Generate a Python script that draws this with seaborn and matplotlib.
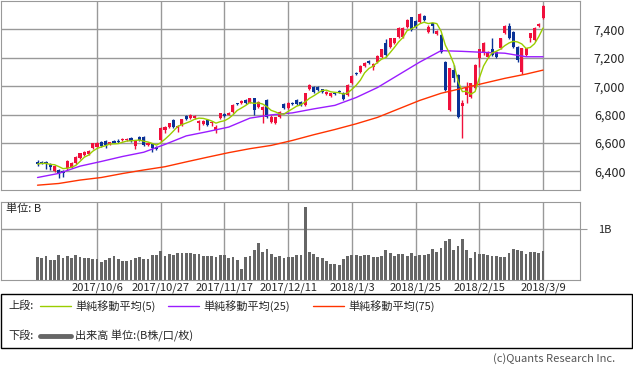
import numpy as np
import pandas as pd
import matplotlib.pyplot as plt
import matplotlib.lines as mlines
import matplotlib.patches as mpatches
import seaborn as sns

W, H = 633, 370

# daily candles (index points)
opens = [6468, 6468, 6466, 6450, 6405, 6410, 6405, 6421, 6433, 6461,
         6492, 6515, 6522, 6562, 6575, 6604, 6614, 6590, 6616, 6615,
         6622, 6623, 6632, 6578, 6644, 6644, 6585, 6592, 6574, 6620,
         6691, 6714, 6761, 6703, 6726, 6789, 6773, 6773, 6738, 6733,
         6761, 6740, 6691, 6773, 6801, 6800, 6820, 6879, 6879, 6902,
         6884, 6914, 6855, 6832, 6902, 6750, 6743, 6780, 6874, 6844,
         6884, 6902, 6891, 6867, 6977, 6996, 6996, 6977, 6945, 6930,
         6949, 6965, 6955, 6937, 7019, 7094, 7101, 7141, 7176, 7132,
         7172, 7207, 7306, 7277, 7306, 7348, 7348, 7418, 7484, 7460,
         7453, 7493, 7383, 7442, 7364, 7360, 7172, 6832, 7113, 7078,
         6860, 6937, 6925, 6984, 7195, 7230, 7207, 7265, 7242, 7266,
         7371, 7423, 7383, 7277, 7101, 7219, 7336, 7324, 7423, 7477]
highs = [6480, 6474, 6470, 6456, 6445, 6416, 6410, 6478, 6468, 6510,
         6533, 6544, 6550, 6603, 6606, 6612, 6622, 6610, 6622, 6628,
         6633, 6632, 6640, 6620, 6650, 6650, 6606, 6598, 6580, 6712,
         6720, 6744, 6768, 6725, 6772, 6795, 6803, 6795, 6762, 6762,
         6768, 6757, 6725, 6814, 6808, 6815, 6873, 6885, 6900, 6908,
         6920, 6920, 6897, 6862, 6908, 6797, 6786, 6826, 6880, 6890,
         6890, 6908, 6897, 6955, 7014, 7002, 7002, 6983, 6967, 6955,
         6955, 6971, 6961, 7014, 7077, 7100, 7147, 7171, 7182, 7161,
         7218, 7265, 7329, 7342, 7342, 7413, 7417, 7471, 7489, 7466,
         7513, 7499, 7430, 7448, 7394, 7366, 7178, 7131, 7148, 7084,
         6902, 7031, 7025, 7154, 7265, 7313, 7248, 7336, 7248, 7342,
         7429, 7442, 7389, 7283, 7272, 7272, 7377, 7413, 7443, 7570]
lows = [6440, 6455, 6414, 6410, 6398, 6352, 6362, 6412, 6425, 6455,
        6485, 6510, 6516, 6556, 6570, 6575, 6567, 6585, 6598, 6603,
        6616, 6617, 6608, 6560, 6615, 6578, 6580, 6538, 6550, 6608,
        6667, 6708, 6708, 6680, 6720, 6760, 6768, 6768, 6690, 6727,
        6720, 6720, 6667, 6768, 6785, 6795, 6814, 6866, 6873, 6873,
        6878, 6797, 6849, 6738, 6779, 6738, 6737, 6774, 6838, 6838,
        6868, 6868, 6861, 6861, 6971, 6955, 6964, 6955, 6939, 6924,
        6936, 6952, 6900, 6931, 7013, 7079, 7095, 7135, 7154, 7113,
        7166, 7201, 7207, 7271, 7300, 7342, 7342, 7412, 7389, 7412,
        7447, 7459, 7371, 7371, 7358, 7230, 6966, 6826, 7031, 6774,
        6632, 6878, 6919, 6978, 7137, 7219, 7201, 7213, 7201, 7260,
        7365, 7330, 7271, 7172, 7085, 7213, 7313, 7318, 7417, 7471]
closes = [6452, 6461, 6456, 6428, 6438, 6386, 6390, 6470, 6461, 6503,
          6527, 6538, 6545, 6597, 6600, 6581, 6583, 6604, 6602, 6608,
          6627, 6628, 6612, 6616, 6620, 6585, 6602, 6562, 6557, 6703,
          6710, 6738, 6714, 6719, 6766, 6766, 6797, 6789, 6757, 6757,
          6726, 6745, 6714, 6808, 6790, 6808, 6867, 6872, 6895, 6879,
          6914, 6832, 6891, 6855, 6785, 6785, 6780, 6820, 6844, 6884,
          6874, 6874, 6867, 6949, 7008, 6961, 6970, 6961, 6961, 6949,
          6942, 6958, 6907, 7008, 7071, 7085, 7141, 7165, 7160, 7155,
          7212, 7259, 7219, 7336, 7336, 7407, 7411, 7465, 7395, 7418,
          7507, 7465, 7418, 7423, 7388, 7242, 6972, 7125, 7054, 6780,
          6878, 6984, 7019, 7148, 7259, 7301, 7242, 7219, 7207, 7336,
          7423, 7336, 7277, 7184, 7266, 7266, 7371, 7407, 7437, 7564]

# volume in billions
volume_b = [0.45, 0.44, 0.47, 0.39, 0.39, 0.49, 0.44, 0.47, 0.43, 0.49,
            0.45, 0.43, 0.43, 0.41, 0.41, 0.36, 0.39, 0.43, 0.47, 0.41,
            0.38, 0.38, 0.39, 0.43, 0.45, 0.41, 0.41, 0.49, 0.49, 0.57,
            0.47, 0.51, 0.49, 0.53, 0.53, 0.53, 0.53, 0.51, 0.51, 0.47,
            0.47, 0.47, 0.45, 0.49, 0.49, 0.43, 0.45, 0.39, 0.22, 0.45,
            0.47, 0.59, 0.73, 0.55, 0.61, 0.51, 0.45, 0.47, 0.43, 0.45,
            0.45, 0.49, 0.49, 1.45, 0.55, 0.51, 0.45, 0.43, 0.38, 0.32,
            0.32, 0.30, 0.41, 0.47, 0.49, 0.49, 0.47, 0.49, 0.49, 0.45,
            0.45, 0.47, 0.59, 0.53, 0.47, 0.51, 0.51, 0.47, 0.53, 0.47,
            0.49, 0.49, 0.51, 0.61, 0.55, 0.63, 0.77, 0.81, 0.59, 0.67,
            0.81, 0.59, 0.43, 0.55, 0.51, 0.51, 0.49, 0.47, 0.47, 0.45,
            0.45, 0.53, 0.61, 0.59, 0.57, 0.51, 0.55, 0.55, 0.53, 0.57]

# 25 / 75 day averages read every 5 bars
ma_bar = [0, 5, 10, 15, 20, 25, 30, 35, 40, 45, 50, 55, 60,
          65, 70, 75, 80, 85, 90, 95, 100, 105, 110, 115, 119]
ma25 = [6357, 6386, 6437, 6470, 6505, 6535, 6590, 6650, 6680, 6712, 6775, 6798, 6812,
        6840, 6865, 6920, 6990, 7080, 7170, 7250, 7245, 7238, 7232, 7207, 7207]
ma75 = [6303, 6315, 6339, 6357, 6385, 6410, 6433, 6467, 6500, 6532, 6560, 6583, 6618,
        6658, 6695, 6735, 6780, 6840, 6900, 6950, 6985, 7020, 7055, 7085, 7113]

label_dates = ['2017-10-06', '2017-10-27', '2017-11-17', '2017-12-11',
               '2018-01-03', '2018-01-25', '2018-02-15', '2018-03-09']
holidays = ['2017-11-23', '2017-12-25', '2018-01-01', '2018-01-15', '2018-02-19']

RED = '#f0103c'
BLUE = '#0a3296'
GRID = '#999999'


def fx(px):
    return px / W


def fy(py):
    return 1 - py / H


dates = pd.bdate_range('2017-09-18', '2018-03-09', freq='C', holidays=holidays)
df = pd.DataFrame({'date': dates, 'open': opens, 'high': highs, 'low': lows,
                   'close': closes, 'vol': volume_b})
df['bar'] = np.arange(len(df))
df['ma5'] = df['close'].rolling(5, min_periods=1).mean()
up = df['close'] >= df['open']
colors = np.where(up, RED, BLUE)

tick_pos = [int(df.index[df['date'] == pd.Timestamp(d)][0]) for d in label_dates]
tick_lab = [f'{d.year}/{d.month}/{d.day}' for d in pd.to_datetime(label_dates)]

sns.set_style('white')
plt.rcParams['font.family'] = ['Noto Sans CJK JP', 'DejaVu Sans']

fig = plt.figure(figsize=(W / 100, H / 100), dpi=100)
ax = fig.add_axes([fx(1), fy(190.3), fx(579), 189.8 / H])
axv = fig.add_axes([fx(1), fy(280), fx(579), 78.3 / H])

xlim = (-8.6, 127.7)

# price panel
ax.set_axisbelow(True)
ax.grid(True, color=GRID, lw=1)
ax.vlines(df['bar'], df['low'], df['high'], colors=colors, lw=1, zorder=2)
body = np.maximum((df['close'] - df['open']).abs(), 5)
ax.bar(df['bar'], body, bottom=np.minimum(df['open'], df['close']),
       width=0.72, color=colors, lw=0, zorder=3)
sns.lineplot(x=ma_bar, y=ma75, ax=ax, color='#ff3300', lw=1, zorder=4)
sns.lineplot(x=ma_bar, y=ma25, ax=ax, color='#9a1cff', lw=1, zorder=4)
sns.lineplot(x=df['bar'], y=df['ma5'], ax=ax, color='#9acd00', lw=1, zorder=5)
ax.set_xlim(*xlim)
ax.set_ylim(6267, 7603)
ax.set_xticks(tick_pos)
ax.set_xticklabels([])
yt = np.arange(6400, 7401, 200)
ax.set_yticks(yt)
ax.set_yticklabels([f'{v:,}' for v in yt])
ax.yaxis.tick_right()
ax.tick_params(axis='y', length=0, pad=10, labelsize=9)
ax.tick_params(axis='x', length=0)
ax.set_xlabel('')
ax.set_ylabel('')
for s in ax.spines.values():
    s.set_color(GRID)

# volume panel
sns.barplot(x=df['bar'], y=df['vol'], ax=axv, color='#666666', width=0.66,
            saturation=1, linewidth=0)
axv.set_axisbelow(True)
axv.grid(True, color=GRID, lw=1)
axv.set_xlim(*xlim)
axv.set_ylim(0, 1.55)
axv.set_xticks(tick_pos)
axv.set_xticklabels(tick_lab)
axv.set_yticks([1.0])
axv.set_yticklabels(['1B'])
axv.yaxis.tick_right()
axv.tick_params(axis='y', length=5, color=GRID, pad=8, labelsize=8)
axv.tick_params(axis='x', length=0, pad=2, labelsize=8)
axv.set_xlabel('')
axv.set_ylabel('')
for s in axv.spines.values():
    s.set_color(GRID)
fig.text(fx(6), fy(209), '単位: B', fontsize=8, va='center')

# legend box
fig.add_artist(mpatches.Rectangle((fx(0.5), fy(348)), fx(631.5), 54 / H,
                                  transform=fig.transFigure, fill=False,
                                  ec='black', lw=1))
row1, row2 = 306, 336
fig.text(fx(8), fy(row1), '上段:', fontsize=8, va='center')
fig.text(fx(8), fy(row2), '下段:', fontsize=8, va='center')
for x0, col, txt in [(40, '#9acd00', '単純移動平均(5)'),
                     (168, '#9a1cff', '単純移動平均(25)'),
                     (313, '#ff3300', '単純移動平均(75)')]:
    fig.add_artist(mlines.Line2D([fx(x0), fx(x0 + 31)], [fy(row1), fy(row1)],
                                 transform=fig.transFigure, color=col, lw=1))
    fig.text(fx(x0 + 35), fy(row1), txt, fontsize=8, va='center')
fig.add_artist(mlines.Line2D([fx(40), fx(71)], [fy(row2), fy(row2)],
                             transform=fig.transFigure, color='#666666', lw=3.5))
fig.text(fx(75), fy(row2), '出来高 単位:(B株/口/枚)', fontsize=8, va='center')

fig.text(fx(615), fy(359), '(c)Quants Research Inc.', fontsize=8,
         ha='right', va='center', color='#555555')

fig.savefig('out.png', dpi=100)
